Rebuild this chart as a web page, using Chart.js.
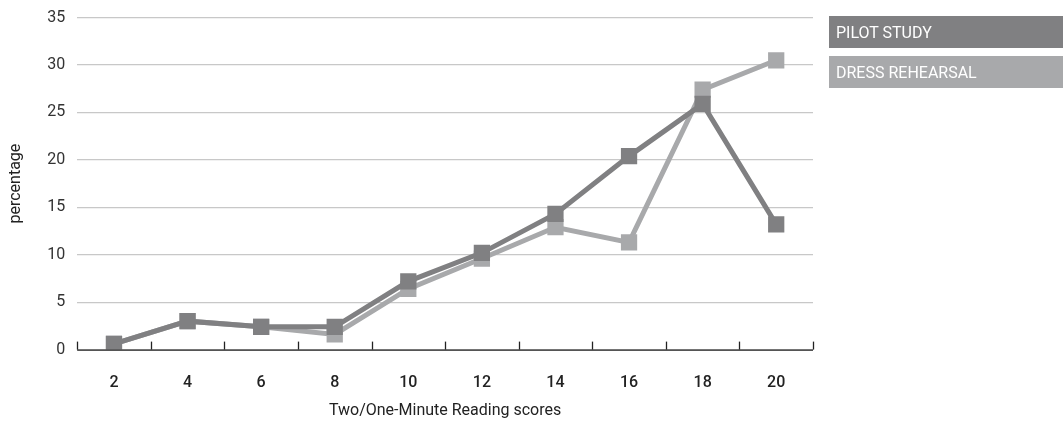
<!DOCTYPE html>
<html>
<head>
<meta charset="utf-8">
<script src="https://cdn.jsdelivr.net/npm/chart.js@4"></script>
<style>
  body { margin: 0; background: #fff; }
  #wrap { position: relative; width: 1063px; height: 421px; overflow: hidden; }
  #myChart { display: block; margin-top: -4px; }
  #legend { position: absolute; left: 829px; top: 16px; width: 234px; }
  .leg { font: 16px Roboto, sans-serif; height: 32px; line-height: 33px; color: #fff; padding-left: 7px; margin-bottom: 8px; box-sizing: border-box; }
</style>
</head>
<body>
<div id="wrap">
  <canvas id="myChart" width="1063" height="425"></canvas>
  <div id="legend"></div>
</div>
<script>
const scores = ['2', '4', '6', '8', '10', '12', '14', '16', '18', '20'];
const pilotStudy = [0.6, 3.0, 2.4, 2.4, 7.2, 10.2, 14.3, 20.4, 25.9, 13.2];
const dressRehearsal = [0.6, 3.0, 2.4, 1.6, 6.4, 9.6, 12.9, 11.3, 27.4, 30.5];
const seriesNames = ['PILOT STUDY', 'DRESS REHEARSAL'];
const seriesColors = ['#808082', '#a8a9ab'];

// small upward tick marks on the x axis, at category boundaries
const upTicks = {
    id: 'upTicks',
    afterDraw(chart) {
        const x = chart.scales.x;
        const ctx = chart.ctx;
        const bottom = chart.chartArea.bottom;
        ctx.save();
        ctx.strokeStyle = '#222';
        ctx.lineWidth = 1.3;
        for (let i = 0; i <= scores.length; i++) {
            const px = Math.round(x.getPixelForValue(i - 0.5)) + 0.5;
            ctx.beginPath();
            ctx.moveTo(px, bottom - 8);
            ctx.lineTo(px, bottom);
            ctx.stroke();
        }
        ctx.beginPath();
        ctx.moveTo(x.left, bottom + 0.5);
        ctx.lineTo(x.right, bottom + 0.5);
        ctx.stroke();
        ctx.restore();
    }
};

function makeSet(label, data, color) {
    return {
        label: label,
        data: data,
        borderColor: color,
        backgroundColor: color,
        borderWidth: 5,
        pointStyle: 'rect',
        pointRadius: 11.5,
        pointHoverRadius: 11.5,
        pointBorderWidth: 0,
        tension: 0
    };
}

new Chart(document.getElementById('myChart'), {
    type: 'line',
    data: {
        labels: scores,
        datasets: [
            makeSet(seriesNames[0], pilotStudy, seriesColors[0]),
            makeSet(seriesNames[1], dressRehearsal, seriesColors[1])
        ]
    },
    options: {
        responsive: false,
        animation: false,
        layout: { padding: { top: 0, right: 250, left: 2, bottom: 0 } },
        plugins: { legend: { display: false }, tooltip: { enabled: false } },
        scales: {
            x: {
                offset: true,
                border: { display: false },
                grid: { display: false },
                ticks: { color: '#222', font: { family: 'Roboto', size: 16, weight: '500' }, padding: 16 },
                title: { display: true, text: 'Two/One-Minute Reading scores', color: '#222', font: { family: 'Roboto', size: 16 }, padding: { top: -7, bottom: 0 } }
            },
            y: {
                min: 0,
                max: 35,
                border: { display: false },
                grid: { color: '#c8c8c8', lineWidth: 1.2, drawTicks: false },
                ticks: { stepSize: 5, color: '#333', font: { family: 'Roboto', size: 16 }, padding: 12 },
                title: { display: true, text: 'percentage', color: '#222', font: { family: 'Roboto', size: 16 }, padding: { bottom: 10 } }
            }
        }
    },
    plugins: [upTicks]
});

let legendHtml = '';
seriesNames.forEach((name, i) => {
    legendHtml += `<div class="leg" style="background:${seriesColors[i]}">${name}</div>`;
});
document.getElementById('legend').innerHTML = legendHtml;
</script>
</body>
</html>
